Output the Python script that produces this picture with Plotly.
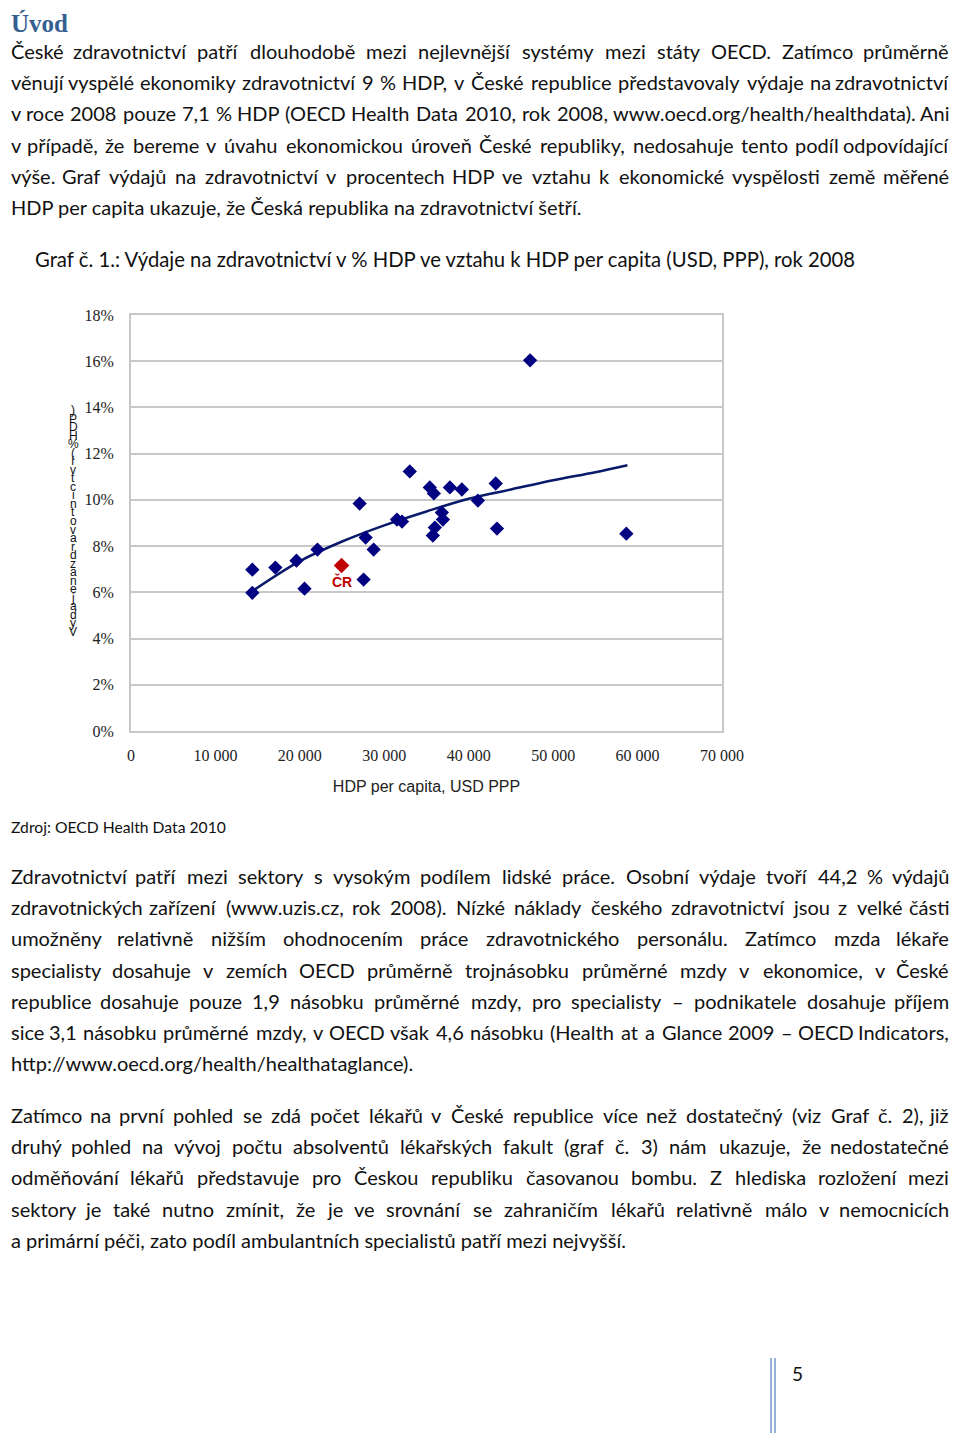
import unicodedata
import plotly.graph_objects as go

# --- data ---
gdp_per_capita = [14370, 14370, 17100, 19600, 20550, 22090, 27080, 27790, 28740, 27550,
                  31500, 32100, 33020, 35390, 35870, 36820, 36940, 35990, 35750, 37770,
                  39190, 41090, 43200, 43350, 47270, 58670]
health_spend_pct = [6.98, 5.98, 7.07, 7.37, 6.16, 7.85, 9.84, 8.37, 7.85, 6.55,
                    9.15, 9.06, 11.23, 10.54, 10.28, 9.45, 9.15, 8.80, 8.46, 10.54,
                    10.45, 9.97, 10.71, 8.76, 16.04, 8.54]
cr_gdp = [24940]
cr_pct = [7.16]
trend_x = [14370, 20000, 25000, 30000, 35000, 40000, 45000, 50000, 55000, 58800]
trend_y = [6.05, 7.35, 8.2, 8.9, 9.5, 10.05, 10.45, 10.85, 11.2, 11.5]
x_ticks = [0, 10000, 20000, 30000, 40000, 50000, 60000, 70000]
x_ticklabels = ["0", "10 000", "20 000", "30 000", "40 000", "50 000", "60 000", "70 000"]
y_ticks = [0, 2, 4, 6, 8, 10, 12, 14, 16, 18]
y_ticklabels = ["0%", "2%", "4%", "6%", "8%", "10%", "12%", "14%", "16%", "18%"]
y_title = "Výdaje na zdravotnictví (%HDP)"

heading = "Úvod"
para1 = [
    ("České zdravotnictví patří dlouhodobě mezi nejlevnější systémy mezi státy OECD. Zatímco průměrně", True),
    ("věnují vyspělé ekonomiky zdravotnictví 9 % HDP, v České republice představovaly výdaje na zdravotnictví", True),
    ("v roce 2008 pouze 7,1 % HDP (OECD Health Data 2010, rok 2008, www.oecd.org/health/healthdata). Ani", True),
    ("v případě, že bereme v úvahu ekonomickou úroveň České republiky, nedosahuje tento podíl odpovídající", True),
    ("výše. Graf výdajů na zdravotnictví v procentech HDP ve vztahu k ekonomické vyspělosti země měřené", True),
    ("HDP per capita ukazuje, že Česká republika na zdravotnictví šetří.", False),
]
caption = "Graf č. 1.: Výdaje na zdravotnictví v % HDP ve vztahu k HDP per capita (USD, PPP), rok 2008"
source = "Zdroj: OECD Health Data 2010"
para2 = [
    ("Zdravotnictví patří mezi sektory s vysokým podílem lidské práce. Osobní výdaje tvoří 44,2 % výdajů", True),
    ("zdravotnických zařízení (www.uzis.cz, rok 2008). Nízké náklady českého zdravotnictví jsou z velké části", True),
    ("umožněny relativně nižším ohodnocením práce zdravotnického personálu. Zatímco mzda lékaře", True),
    ("specialisty dosahuje v zemích OECD průměrně trojnásobku průměrné mzdy v ekonomice, v České", True),
    ("republice dosahuje pouze 1,9 násobku průměrné mzdy, pro specialisty – podnikatele dosahuje příjem", True),
    ("sice 3,1 násobku průměrné mzdy, v OECD však 4,6 násobku (Health at a Glance 2009 – OECD Indicators,", True),
    ("http://www.oecd.org/health/healthataglance).", False),
]
para3 = [
    ("Zatímco na první pohled se zdá počet lékařů v České republice více než dostatečný (viz Graf č. 2), již", True),
    ("druhý pohled na vývoj počtu absolventů lékařských fakult (graf č. 3) nám ukazuje, že nedostatečné", True),
    ("odměňování lékařů představuje pro Českou republiku časovanou bombu. Z hlediska rozložení mezi", True),
    ("sektory je také nutno zmínit, že je ve srovnání se zahraničím lékařů relativně málo v nemocnicích", True),
    ("a primární péči, zato podíl ambulantních specialistů patří mezi nejvyšší.", False),
]
page_number = "5"

# the page body has an 8px margin, so the figure is a bit smaller and offset
OFF = 8
W, H = 960 - 2 * OFF, 1441 - 2 * OFF
TEXT_L, TEXT_R = 9, 951
BODY_FONT = "Lato, Open Sans, sans-serif"
BODY_SIZE = 20
TEXT_COL = "#111111"

# rough advance widths (em) for justifying lines word by word
WIDTHS = {"i": .24, "l": .24, "j": .24, "f": .32, "t": .35, "r": .36, "s": .43, "z": .45,
          "c": .47, "x": .49, "k": .5, "v": .5, "y": .5, "g": .5, "a": .51, "e": .53,
          "b": .56, "d": .56, "h": .56, "n": .56, "o": .56, "p": .56, "q": .56, "u": .56,
          "m": .84, "w": .76, ".": .24, ",": .24, ":": .28, "(": .3, ")": .3, "/": .38,
          "%": .75, "–": .58, "I": .29, "E": .56, "P": .58, "S": .52, "Z": .6, "C": .66,
          "D": .72, "O": .77, "H": .73, "G": .72, "N": .74, "A": .68, "M": .86}


def est_width(word, size=BODY_SIZE):
    total = 0
    for ch in word:
        base = unicodedata.normalize("NFD", ch)[0]
        if base.isdigit():
            total += .58
        else:
            total += WIDTHS.get(base, .62 if base.isupper() else .52)
    return total * size


def fx(x):
    return (x - OFF) / W


def fy(y):
    return 1 - (y - OFF) / H


annotations = []


def add_text(txt, x, y, size=BODY_SIZE, family=BODY_FONT, color=TEXT_COL, anchor="left", bold=False):
    annotations.append(dict(
        text=f"<b>{txt}</b>" if bold else txt, x=fx(x), y=fy(y), xref="paper", yref="paper",
        xanchor=anchor, yanchor="middle", showarrow=False,
        font=dict(family=family, size=size, color=color)))


def add_line(txt, y, justify, left=TEXT_L, right=TEXT_R):
    if not justify:
        add_text(txt, left, y)
        return
    words = txt.split(" ")
    widths = [est_width(w) for w in words]
    gap = (right - left - sum(widths)) / (len(words) - 1)
    x = left
    for i, (w, wd) in enumerate(zip(words, widths)):
        if i == 0:
            add_text(w, left, y, anchor="left")
        elif i == len(words) - 1:
            add_text(w, right, y, anchor="right")
        else:
            add_text(w, x + wd / 2, y, anchor="center")
        x += wd + gap


add_text(heading, TEXT_L, 23, size=25, family="Liberation Serif, serif", color="#365F91", bold=True)
for i, (t, j) in enumerate(para1):
    add_line(t, 51 + i * 31.2, j)
add_text(caption, 33, 259, size=20.3)
add_text(source, TEXT_L, 827, size=15.7)
for i, (t, j) in enumerate(para2):
    add_line(t, 876 + i * 31.2, j)
for i, (t, j) in enumerate(para3):
    add_line(t, 1115 + i * 31.2, j)
add_text(page_number, 790, 1373, size=19)

# stacked, upright y-axis title (bottom to top)
chars = [c for c in y_title if c != " "][::-1]
for k, c in enumerate(chars):
    add_text(c, 73, 410 + k * (222 / (len(chars) - 1)), size=12,
             family="Liberation Sans, Arial, sans-serif", color="#111111", anchor="center")

# ČR label
annotations.append(dict(text="<b>ČR</b>", x=cr_gdp[0], y=cr_pct[0], xref="x", yref="y",
                        yshift=-16, showarrow=False,
                        font=dict(family="Liberation Sans, Arial, sans-serif", size=14, color="#C00000")))

fig = go.Figure()
fig.add_trace(go.Scatter(x=trend_x, y=trend_y, mode="lines", line=dict(color="#0A1A6B", width=2.5, shape="spline"),
                         hoverinfo="skip", showlegend=False))
fig.add_trace(go.Scatter(x=gdp_per_capita, y=health_spend_pct, mode="markers",
                         marker=dict(symbol="diamond", size=11, color="#000080"), showlegend=False))
fig.add_trace(go.Scatter(x=cr_gdp, y=cr_pct, mode="markers",
                         marker=dict(symbol="diamond", size=12, color="#C00000"), showlegend=False))

grid = "#C8C8C8"
fig.update_layout(
    width=W, height=H, autosize=False,
    margin=dict(l=0, r=0, t=0, b=0, pad=0, autoexpand=False),
    paper_bgcolor="white", plot_bgcolor="white",
    xaxis=dict(domain=[fx(131), fx(722)], range=[0, 70000], tickvals=x_ticks, ticktext=x_ticklabels,
               automargin=False,
               showgrid=False, zeroline=False, showline=True, mirror=True, linecolor=grid, linewidth=2,
               ticks="outside", ticklen=9, tickcolor="rgba(0,0,0,0)",
               tickfont=dict(family="Liberation Serif, serif", size=16, color="#222222"),
               title=dict(text="HDP per capita, USD PPP", standoff=18,
                          font=dict(family="Liberation Sans Narrow, Liberation Sans, Arial, sans-serif",
                                    size=16, color="#222222"))),
    yaxis=dict(domain=[fy(731), fy(315)], range=[0, 18], tickvals=y_ticks, ticktext=y_ticklabels,
               automargin=False,
               showgrid=True, gridcolor=grid, gridwidth=2, zeroline=False,
               showline=True, mirror=True, linecolor=grid, linewidth=2,
               ticks="outside", ticklen=12, tickcolor="rgba(0,0,0,0)",
               tickfont=dict(family="Liberation Serif, serif", size=16, color="#222222")),
    annotations=annotations,
    shapes=[
        dict(type="line", xref="paper", yref="paper", x0=fx(771), x1=fx(771), y0=fy(1358), y1=fy(1433),
             line=dict(color="#95B3D7", width=2)),
        dict(type="line", xref="paper", yref="paper", x0=fx(775), x1=fx(775), y0=fy(1358), y1=fy(1433),
             line=dict(color="#95B3D7", width=2)),
    ],
)

fig.write_html("out.html")
